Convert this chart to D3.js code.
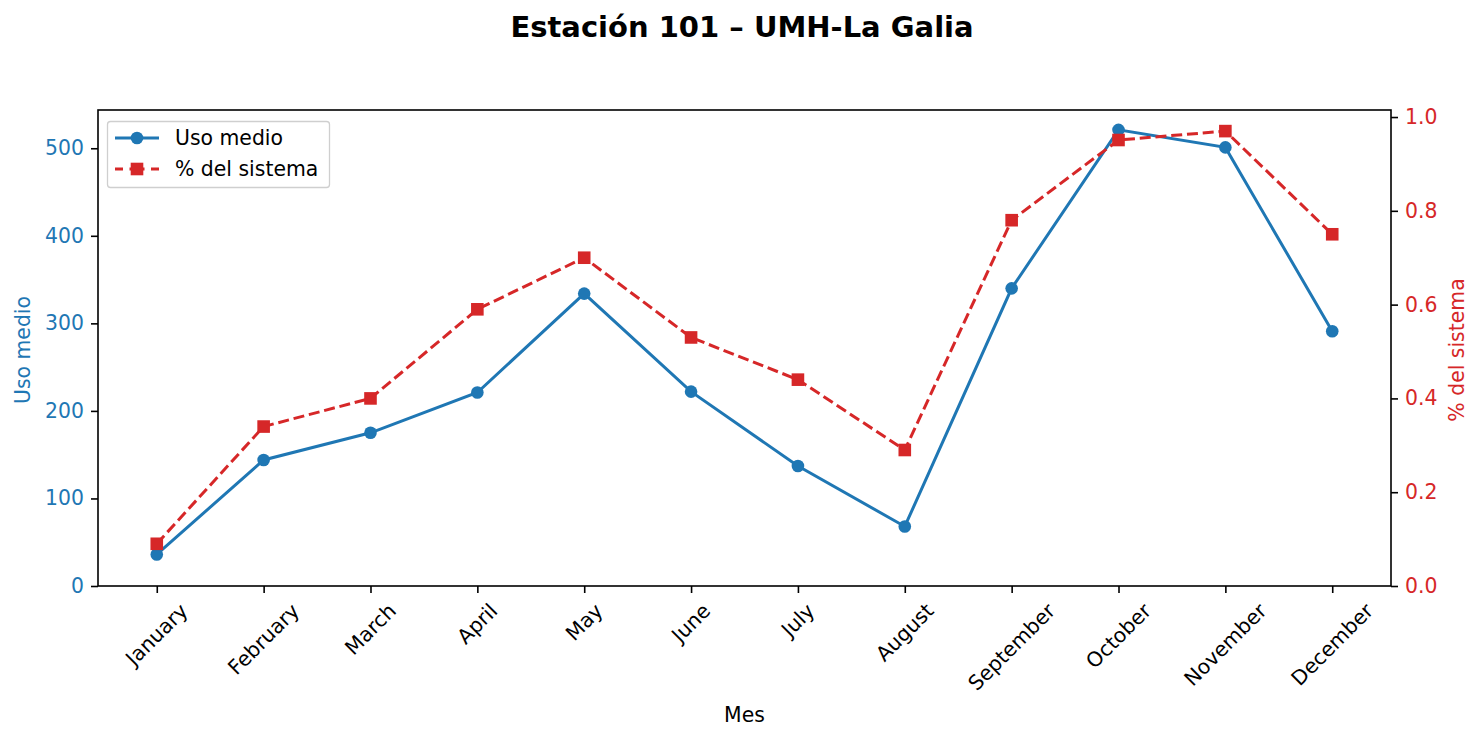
<!DOCTYPE html>
<html><head><meta charset="utf-8">
<script src="https://cdn.jsdelivr.net/npm/d3@7"></script>
<style>body{margin:0;background:#fff;} text{font-family:"DejaVu Sans",sans-serif;}</style>
</head><body>
<svg id="c" width="1483" height="740"></svg>
<script>
const months = ["January","February","March","April","May","June","July","August","September","October","November","December"];
const usoMedio = [36, 144, 175, 221, 334, 222, 137, 68, 340, 521, 501, 291];
const pctSistema = [0.09, 0.34, 0.40, 0.59, 0.70, 0.53, 0.44, 0.29, 0.78, 0.951, 0.970, 0.75];
const leftTicks = [0, 100, 200, 300, 400, 500];
const rightTicks = [0.0, 0.2, 0.4, 0.6, 0.8, 1.0];

const BLUE = "#1f77b4", RED = "#d62728";
const svg = d3.select("#c");
const L = 98, R = 1391, T = 110, B = 586;
const FS = 20.4;
const TICK = 7, PAD = 7, LW = 3, MS = 12.6;

const x = d3.scaleLinear().domain([-0.55, months.length - 1 + 0.55]).range([L, R]);
const yL = d3.scaleLinear().domain([0, 543.7]).range([B, T]);
const yR = d3.scaleLinear().domain([0, 1.015]).range([B, T]);

// title
svg.append("text").attr("x", 742).attr("y", 37).attr("text-anchor", "middle")
  .attr("font-weight", "bold").attr("font-size", 29).text("Estación 101 – UMH-La Galia");

// left axis
const gL = svg.append("g").attr("transform", `translate(${L},0)`)
  .call(d3.axisLeft(yL).tickValues(leftTicks).tickSize(TICK).tickPadding(PAD).tickFormat(d3.format("d")));
gL.select(".domain").remove();
gL.selectAll("line").attr("stroke", "#000").attr("stroke-width", 1.6);
gL.selectAll("text").attr("fill", BLUE).attr("font-size", FS).style("font-family", "DejaVu Sans");

// right axis
const gR = svg.append("g").attr("transform", `translate(${R},0)`)
  .call(d3.axisRight(yR).tickValues(rightTicks).tickSize(TICK).tickPadding(PAD).tickFormat(d3.format(".1f")));
gR.select(".domain").remove();
gR.selectAll("line").attr("stroke", "#000").attr("stroke-width", 1.6);
gR.selectAll("text").attr("fill", RED).attr("font-size", FS).style("font-family", "DejaVu Sans");

// bottom axis ticks
const gB = svg.append("g").attr("transform", `translate(0,${B})`)
  .call(d3.axisBottom(x).tickValues(d3.range(months.length)).tickSize(TICK).tickFormat(""));
gB.select(".domain").remove();
gB.selectAll("line").attr("stroke", "#000").attr("stroke-width", 1.6);

// rotated month labels
const lblG = svg.append("g");
months.forEach((m, i) => {
  const t = lblG.append("text").attr("font-size", FS).attr("text-anchor", "middle")
    .attr("dominant-baseline", "central").text(m);
  const w = t.node().getComputedTextLength();
  const h = FS * 1.0;
  const half = (w * Math.SQRT1_2 + h * Math.SQRT1_2) / 2;
  const cx = x(i), cy = B + TICK + PAD + half;
  t.attr("x", cx).attr("y", cy).attr("transform", `rotate(-45,${cx},${cy})`);
});

// frame
svg.append("rect").attr("x", L).attr("y", T).attr("width", R - L).attr("height", B - T)
  .attr("fill", "none").attr("stroke", "#000").attr("stroke-width", 1.6);

// axis labels
svg.append("text").attr("x", (L + R) / 2).attr("y", 722).attr("text-anchor", "middle")
  .attr("font-size", FS).text("Mes");
svg.append("text").attr("transform", `translate(30,${(T + B) / 2 + 2}) rotate(-90)`)
  .attr("text-anchor", "middle").attr("font-size", FS).attr("fill", BLUE).text("Uso medio");
svg.append("text").attr("transform", `translate(1464,${(T + B) / 2 + 2}) rotate(-90)`)
  .attr("text-anchor", "middle").attr("font-size", FS).attr("fill", RED).text("% del sistema");

// lines
const lineL = d3.line().x((d, i) => x(i)).y(d => yL(d));
const lineR = d3.line().x((d, i) => x(i)).y(d => yR(d));
svg.append("path").datum(usoMedio).attr("d", lineL).attr("fill", "none")
  .attr("stroke", BLUE).attr("stroke-width", LW);
svg.selectAll("circle.pt").data(usoMedio).enter().append("circle").attr("class", "pt")
  .attr("cx", (d, i) => x(i)).attr("cy", d => yL(d)).attr("r", MS / 2).attr("fill", BLUE);

svg.append("path").datum(pctSistema).attr("d", lineR).attr("fill", "none")
  .attr("stroke", RED).attr("stroke-width", LW).attr("stroke-dasharray", "11,4.8");
svg.selectAll("rect.sq").data(pctSistema).enter().append("rect").attr("class", "sq")
  .attr("x", (d, i) => x(i) - MS / 2).attr("y", d => yR(d) - MS / 2)
  .attr("width", MS).attr("height", MS).attr("fill", RED);

// legend
const lg = svg.append("g");
lg.append("rect").attr("x", 107.5).attr("y", 121.5).attr("width", 222).attr("height", 66)
  .attr("rx", 3).attr("fill", "#fff").attr("fill-opacity", 0.8).attr("stroke", "#cfcfcf").attr("stroke-width", 1.3);
lg.append("line").attr("x1", 115).attr("x2", 159).attr("y1", 138).attr("y2", 138)
  .attr("stroke", BLUE).attr("stroke-width", LW);
lg.append("circle").attr("cx", 137).attr("cy", 138).attr("r", MS / 2).attr("fill", BLUE);
lg.append("line").attr("x1", 115).attr("x2", 159).attr("y1", 169).attr("y2", 169)
  .attr("stroke", RED).attr("stroke-width", LW).attr("stroke-dasharray", "8,6.5,15,6.5,8");
lg.append("rect").attr("x", 137 - MS / 2).attr("y", 169 - MS / 2).attr("width", MS).attr("height", MS).attr("fill", RED);
lg.append("text").attr("x", 175).attr("y", 138).attr("dominant-baseline", "central")
  .attr("font-size", FS).text("Uso medio");
lg.append("text").attr("x", 175).attr("y", 169).attr("dominant-baseline", "central")
  .attr("font-size", FS).text("% del sistema");
</script>
</body></html>
